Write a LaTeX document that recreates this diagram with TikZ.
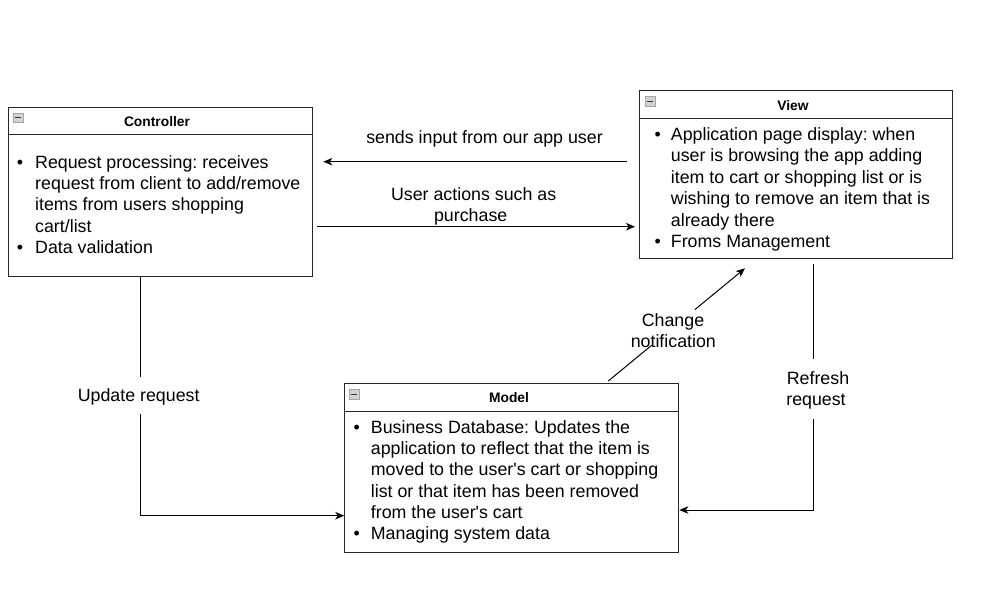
\documentclass[tikz,border=0pt]{standalone}
\usepackage{fontspec}
\setmainfont{Liberation Sans}
\usetikzlibrary{arrows.meta,calc}
\newcommand{\bodyfont}{\fontsize{17.8}{21.4}\selectfont}
\newcommand{\headfont}{\fontsize{13.8}{16}\selectfont\bfseries}
\frenchspacing
\tikzset{
  box/.style={draw=black!85, line width=1pt, anchor=north west, inner sep=0pt},
  divider/.style={draw=black!85, line width=1pt},
  icon/.style={draw=gray!70, fill=gray!35, line width=0.8pt},
  iconbar/.style={draw=black!80, line width=1.2pt},
  txt/.style={anchor=base west, inner sep=0pt, font=\bodyfont, text=black},
  bul/.style={anchor=base, inner sep=0pt, font=\bodyfont, text=black},
  head/.style={anchor=base, inner sep=0pt, font=\headfont, text=black},
  lbl/.style={anchor=base, inner sep=0pt, font=\bodyfont, text=black},
  conn/.style={draw=black, line width=1pt},
  arr/.style={conn, -{Stealth[length=9pt,width=7.5pt,inset=2.5pt]}}
}
\begin{document}
\frenchspacing
\begin{tikzpicture}[x=1pt,y=-1pt]
\fill[white] (0,0) rectangle (1007,605);
\useasboundingbox (0,0) rectangle (1007,605);

% ---------- Controller ----------
\node[box, minimum width=303.4pt, minimum height=168.4pt] (ctrl) at (8.3,107.3) {};
\draw[divider] ([yshift=-27.2pt]ctrl.north west) -- ([yshift=-27.2pt]ctrl.north east);
\draw[icon] (13,113) rectangle (23,122.5);
\draw[iconbar] (15,117.8) -- (21,117.8);
\node[head] (ctrlh) at (157,126.7) {Controller};
\node[bul] (cb1) at (20,168) {\textbullet};
\node[txt] (c1) at (35,168) {Request processing: receives};
\node[txt] (c2) at (35,189.4) {request from client to add/remove};
\node[txt] (c3) at (35,210.8) {items from users shopping};
\node[txt] (c4) at (35,232.2) {cart/list};
\node[bul] (cb2) at (20,253.6) {\textbullet};
\node[txt] (c5) at (35,253.6) {Data validation};

% ---------- View ----------
\node[box, minimum width=313pt, minimum height=168.3pt] (view) at (639.3,90) {};
\draw[divider] ([yshift=-28.3pt]view.north west) -- ([yshift=-28.3pt]view.north east);
\draw[icon] (645,96.5) rectangle (655,106);
\draw[iconbar] (647,101.3) -- (653,101.3);
\node[head] (viewh) at (793,110) {View};
\node[bul] (vb1) at (657.7,140) {\textbullet};
\node[txt] (v1) at (670.7,140) {Application page display: when};
\node[txt] (v2) at (670.7,161.5) {user is browsing the app adding};
\node[txt] (v3) at (670.7,183) {item to cart or shopping list or is};
\node[txt] (v4) at (670.7,204.5) {wishing to remove an item that is};
\node[txt] (v5) at (670.7,226) {already there};
\node[bul] (vb2) at (657.7,247.5) {\textbullet};
\node[txt] (v6) at (670.7,247.5) {Froms Management};

% ---------- Model ----------
\node[box, minimum width=334pt, minimum height=168.4pt] (model) at (344.3,383.3) {};
\draw[divider] ([yshift=-27.7pt]model.north west) -- ([yshift=-27.7pt]model.north east);
\draw[icon] (349.3,389.5) rectangle (359.3,399);
\draw[iconbar] (351.3,394.3) -- (357.3,394.3);
\node[head] (modelh) at (509,402.7) {Model};
\node[bul] (mb1) at (356.7,433.3) {\textbullet};
\node[txt] (m1) at (370.7,433.3) {Business Database: Updates the};
\node[txt] (m2) at (370.7,454.6) {application to reflect that the item is};
\node[txt] (m3) at (370.7,475.9) {moved to the user\textquotesingle s cart or shopping};
\node[txt] (m4) at (370.7,497.2) {list or that item has been removed};
\node[txt] (m5) at (370.7,518.5) {from the user\textquotesingle s cart};
\node[bul] (mb2) at (356.7,539.8) {\textbullet};
\node[txt] (m6) at (370.7,539.8) {Managing system data};

% ---------- sends input ----------
\coordinate (s1) at (626.7,161.7);
\coordinate (s2) at (323.3,161.7);
\draw[arr] (s1) -- (s2);
\node[lbl] (sl) at (484.5,143.3) {sends input from our app user};

% ---------- user actions ----------
\coordinate (a1) at (317.3,226.7);
\coordinate (a2) at (635,226.7);
\draw[arr] (a1) -- (a2);
\node[lbl] (al1) at (473.7,200) {User actions such as};
\node[lbl] (al2) at (470.7,221.7) {purchase};

% ---------- update request ----------
\coordinate (u0) at (ctrl.south -| 140.5,0);
\coordinate (ug1) at (140.5,377.3);
\coordinate (ug2) at (140.5,414);
\coordinate (u1) at (140.5,515.7);
\draw[conn] (u0) -- (ug1);
\draw[arr] (ug2) -- (u1) -- (model.west |- u1);
\node[lbl] (ul) at (138.7,401.7) {Update request};

% ---------- change notification ----------
\coordinate (n0) at (608.3,381);
\coordinate (n1) at (745,268.3);
\draw[conn] (n0) -- ($(n0)!0.317!(n1)$);
\draw[arr] ($(n0)!0.634!(n1)$) -- (n1);
\node[lbl] (nl1) at (673,326.7) {Change};
\node[lbl] (nl2) at (673.3,347) {notification};

% ---------- refresh request ----------
\coordinate (r0) at (813.3,264.3);
\coordinate (rg1) at (813.3,359.3);
\coordinate (rg2) at (813.3,419);
\coordinate (r1) at (813.3,510);
\draw[conn] (r0) -- (rg1);
\draw[arr] (rg2) -- (r1) -- (model.east |- r1);
\node[lbl] (rl1) at (818,384.3) {Refresh};
\node[lbl] (rl2) at (816,405) {request};
\end{tikzpicture}
\end{document}
